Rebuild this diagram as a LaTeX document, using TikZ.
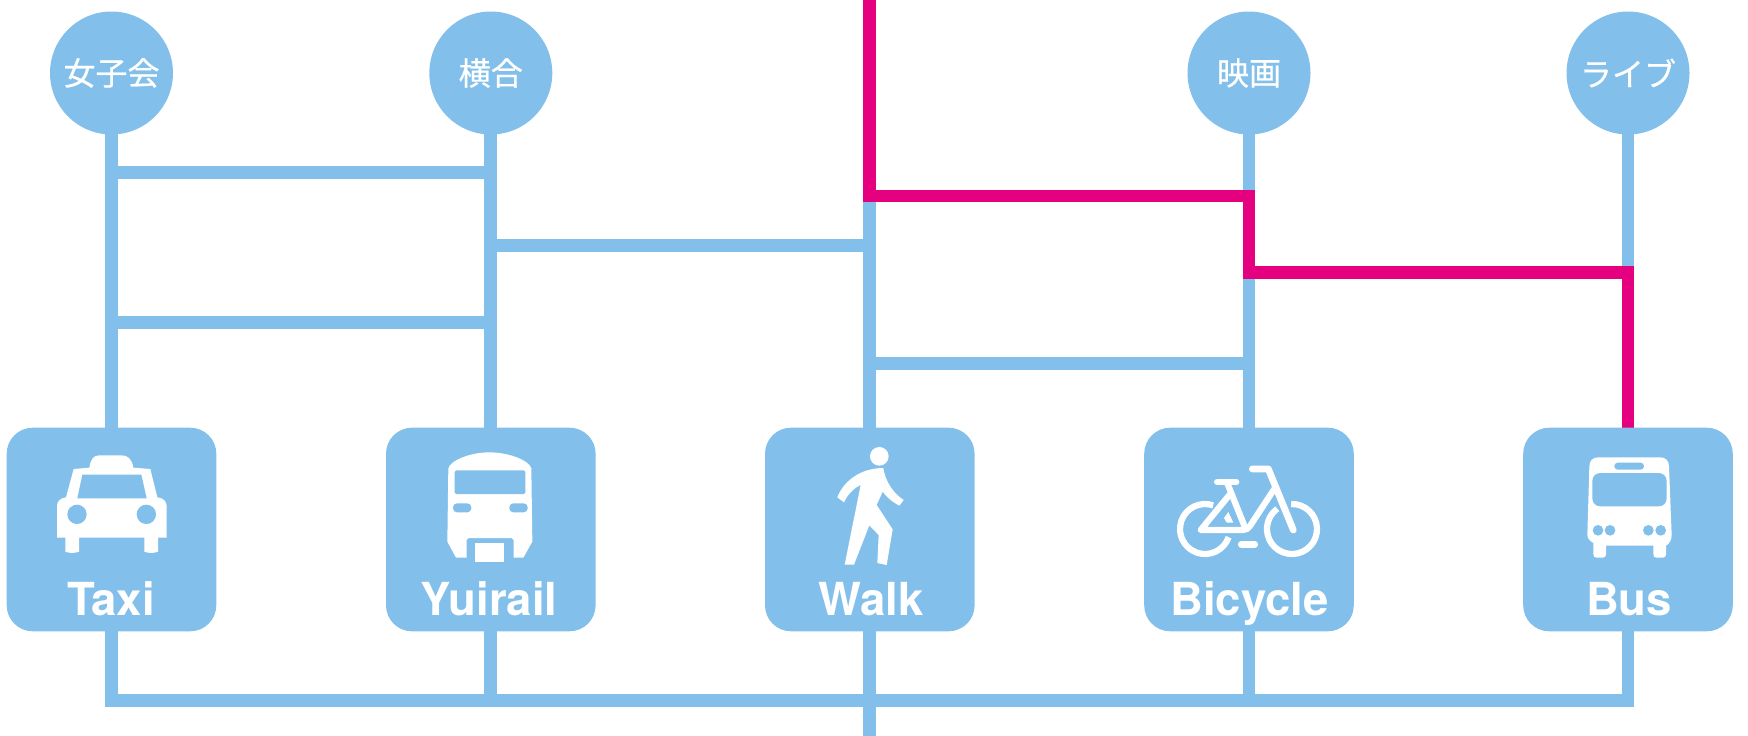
\documentclass[tikz,border=0pt]{standalone}
\usepackage{fontspec}
\newfontfamily\cjkfont[FakeBold=0.6]{Noto Sans CJK JP}
\newfontfamily\stopfont{TeX Gyre Heros}
\definecolor{stopblue}{HTML}{82C0EB}
\definecolor{routepink}{HTML}{E4007F}
\pgfdeclarelayer{background layer}
\pgfsetlayers{background layer,main}
\tikzstyle{place}=[circle,fill=stopblue,text=white,inner sep=0pt,minimum size=123pt,font=\cjkfont\fontsize{32}{32}\selectfont]
\tikzstyle{stopbox}=[rectangle,rounded corners=26pt,fill=stopblue,inner sep=0pt,minimum width=209.6pt,minimum height=203.6pt]
\tikzstyle{stoplabel}=[anchor=base,text=white,inner sep=0pt,font=\stopfont\bfseries\fontsize{45.5}{46}\selectfont]
\tikzstyle{line}=[draw=stopblue,line width=12.7pt]
\tikzstyle{route}=[draw=routepink,line width=12.9pt]
\tikzstyle{bikeline}=[draw=white,line width=6.2pt]

\begin{document}
\begin{tikzpicture}[x=1pt,y=-1pt]
		\useasboundingbox (0,0) rectangle (1748,736);
		\node (joshi) at (111.5,73) [place] {女子会};
		\node (yoko) at (490.8,73) [place] {横合};
		\node (eiga) at (1249,73) [place] {映画};
		\node (live) at (1628,73) [place] {ライブ};
		
		\node (taxi) at (111.5,529.5) [stopbox] {};
		\node (yui) at (490.8,529.5) [stopbox] {};
		\node (walk) at (869.8,529.5) [stopbox] {};
		\node (bike) at (1249,529.5) [stopbox] {};
		\node (bus) at (1628,529.5) [stopbox] {};
		
		\node (taxitext) at (111,615.7) [stoplabel] {Taxi};
		\node (yuitext) at (489,615.7) [stoplabel] {Yuirail};
		\node (walktext) at (871,615.7) [stoplabel] {Walk};
		\node (biketext) at (1249.5,615.7) [stoplabel] {Bicycle};
		\node (bustext) at (1629,615.7) [stoplabel] {Bus};
		
		\coordinate (r1a) at (111.5,172.3);
		\coordinate (r1b) at (490.8,172.3);
		\coordinate (r2a) at (111.5,322.7);
		\coordinate (r2b) at (490.8,322.7);
		\coordinate (r3a) at (490.8,245.7);
		\coordinate (r3b) at (869.8,245.7);
		\coordinate (r4a) at (869.8,363.7);
		\coordinate (r4b) at (1249,363.7);
		\coordinate (b1) at (111.5,700.3);
		\coordinate (b2) at (490.8,700.3);
		\coordinate (b4) at (1249,700.3);
		\coordinate (b5) at (1628,700.3);
		\coordinate (walktop) at (869.8,196);
		\coordinate (walkend) at (869.8,736);
		\coordinate (p0) at (869.8,0);
		\coordinate (p1) at (869.8,196);
		\coordinate (p2) at (1249,196);
		\coordinate (p3) at (1249,272.3);
		\coordinate (p4) at (1628,272.3);
		
		\begin{pgfonlayer}{background layer}
			\draw[line] (joshi.center)--(taxi.center);
			\draw[line] (yoko.center)--(yui.center);
			\draw[line] (eiga.center)--(bike.center);
			\draw[line] (live.center)--(bus.center);
			\draw[line] (walktop)--(walkend);
			\draw[line] (r1a)--(r1b);
			\draw[line] (r2a)--(r2b);
			\draw[line] (r3a)--(r3b);
			\draw[line] (r4a)--(r4b);
			\draw[line] (taxi.center)--(b1)--(b5)--(bus.center);
			\draw[line] (yui.center)--(b2);
			\draw[line] (bike.center)--(b4);
			\draw[route] (p0)--(p1)--(p2)--(p3)--(p4)--(bus.center);
		\end{pgfonlayer}
		
		% taxi
		\begin{scope}[shift={(40,440)},scale=1/3]
			\fill[white] (148,83) .. controls (152,58) and (160,46) .. (178,46) -- (245,46) .. controls (264,46) and (276,58) .. (280,83)
				-- (331,87) -- (352,172) .. controls (370,174) and (380,184) .. (380,198) -- (380,293) -- (354,293) -- (354,335)
				.. controls (342,340) and (325,340) .. (313,335) -- (313,293) -- (117,293) -- (117,335)
				.. controls (105,340) and (88,340) .. (76,335) -- (76,293) -- (51,293) -- (51,198)
				.. controls (51,184) and (61,174) .. (78,172) -- (101,87) -- cycle;
			\fill[stopblue] (127,104) -- (304,104) -- (320,175) -- (112,175) -- cycle;
			\fill[stopblue] (111,223) circle (29);
			\fill[stopblue] (319,223) circle (29);
		\end{scope}
		
		% train
		\begin{scope}[shift={(420,440)},scale=1/3]
			\fill[white] (85,85) .. controls (90,62) and (150,37) .. (208,37) .. controls (268,37) and (328,62) .. (334,85)
				-- (337,305) -- (310,353) -- (281,353) -- (281,300) -- (275,294) -- (146,294) -- (140,300) -- (140,353)
				-- (108,353) -- (82,305) -- cycle;
			\fill[stopblue,rounded corners=1.5pt] (104,91) rectangle (316,162);
			\fill[stopblue,rounded corners=4pt] (99,190) rectangle (154,217);
			\fill[stopblue,rounded corners=4pt] (268,190) rectangle (323,217);
			\fill[white] (165,309) rectangle (252,366);
		\end{scope}
		
		% walker
		\begin{scope}[shift={(820,440)},scale=1/3]
			\fill[white] (178,49) circle (28);
			\fill[white] (190,84) .. controls (196,125) and (220,160) .. (251,180) -- (238,197) .. controls (218,187) and (200,172) .. (188,155)
				-- (170,195) -- (218,268) -- (200,375) -- (172,369) -- (176,285) -- (148,256) -- (102,374) -- (74,374) -- (122,135)
				.. controls (100,145) and (82,165) .. (72,187) -- (52,172) .. controls (72,120) and (125,84) .. cycle;
		\end{scope}
		
		% bicycle
		\begin{scope}[shift={(1170,450)},scale=1/3]
			\draw[bikeline] (105,237) ++(-71:75) arc[start angle=-71,end angle=-341,radius=75];
			\draw[bikeline] (366,237) ++(-92:75) arc[start angle=-92,end angle=234,radius=75];
			\draw[bikeline,line cap=round,line join=round] (178,135) -- (92,240) -- (218,240) .. controls (228,240) and (234,236) .. (240,228) -- (312,118);
			\draw[bikeline,line cap=round] (172,100) -- (222,225);
			\draw[bikeline,line width=6.8pt,line cap=round] (142,96) -- (198,96);
			\draw[bikeline,line width=6.8pt,line cap=round,line join=round] (247,57) -- (295,57) -- (370,240);
			\draw[bikeline,line width=6.8pt,line cap=round] (214,283) -- (254,283);
			\fill[white] (162,204) -- (175,186) -- (190,218) -- (170,218) -- cycle;
		\end{scope}
		
		% bus
		\begin{scope}[shift={(1570,445)},scale=1/3]
			\fill[white] (58,65) .. controls (58,47) and (68,37) .. (85,37) -- (270,37) .. controls (287,37) and (297,47) .. (297,65)
				-- (305,270) .. controls (305,285) and (298,296) .. (288,302) -- (288,328) .. controls (288,335) and (284,338) .. (278,338)
				-- (260,338) .. controls (254,338) and (250,335) .. (250,328) -- (250,302) -- (108,302) -- (108,328)
				.. controls (108,335) and (104,338) .. (98,338) -- (80,338) .. controls (74,338) and (70,335) .. (70,328) -- (70,294)
				.. controls (60,288) and (52,280) .. (52,270) -- cycle;
			\fill[stopblue] (92,84) -- (265,84) .. controls (280,84) and (290,94) .. (290,108) -- (290,160) .. controls (290,174) and (280,184) .. (265,184)
				-- (92,184) .. controls (77,184) and (67,174) .. (67,160) -- (67,108) .. controls (67,94) and (77,84) .. cycle;
			\fill[stopblue,rounded corners=3.4pt] (133,53) rectangle (222,74);
			\foreach \lampx in {84,120,235,272}
				\fill[stopblue] (\lampx,256) circle (16);
		\end{scope}
	\end{tikzpicture}
\end{document}
